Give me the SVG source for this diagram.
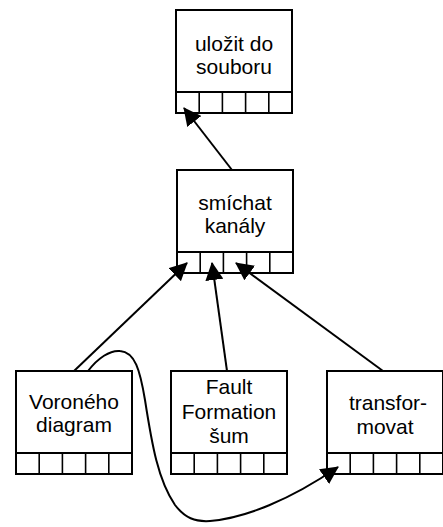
<svg xmlns="http://www.w3.org/2000/svg" width="443" height="527" viewBox="0 0 443 527">
  <style>
    .box { fill: #ffffff; stroke: #000000; stroke-width: 2; }
    .sep { stroke: #000000; stroke-width: 2; fill: none; }
    .port { stroke: #000000; stroke-width: 1.6; fill: none; }
    .label { font-family: "Liberation Sans", Arial, sans-serif; font-size: 21px; fill: #000000; text-anchor: middle; }
    .edge { stroke: #000000; stroke-width: 2; fill: none; marker-end: url(#arrow); }
  </style>
  <defs>
    <marker id="arrow" markerUnits="userSpaceOnUse" viewBox="0 0 18 18" markerWidth="18" markerHeight="18" refX="17" refY="9" orient="auto">
      <path d="M0,0 L18,9 L0,18 z" fill="#000000"/>
    </marker>
    <!-- node body with a row of five ports underneath -->
    <g id="node-frame">
      <rect class="box" x="0" y="0" width="116" height="103"/>
      <line class="sep" x1="0" y1="82" x2="116" y2="82"/>
      <line class="port" x1="23.2" y1="82" x2="23.2" y2="103"/>
      <line class="port" x1="46.4" y1="82" x2="46.4" y2="103"/>
      <line class="port" x1="69.6" y1="82" x2="69.6" y2="103"/>
      <line class="port" x1="92.8" y1="82" x2="92.8" y2="103"/>
    </g>
  </defs>

  <g id="save">
    <use href="#node-frame" x="176" y="10"/>
    <text class="label" x="234" y="50.5">uložit do</text>
    <text class="label" x="234" y="74">souboru</text>
  </g>

  <g id="mix">
    <use href="#node-frame" x="177" y="170"/>
    <text class="label" x="235" y="210">smíchat</text>
    <text class="label" x="235" y="233">kanály</text>
  </g>

  <g id="voronoi">
    <use href="#node-frame" x="16" y="371"/>
    <text class="label" x="74" y="409">Voroného</text>
    <text class="label" x="74" y="432">diagram</text>
  </g>

  <g id="fault">
    <use href="#node-frame" x="171" y="371"/>
    <text class="label" x="229" y="394">Fault</text>
    <text class="label" x="229" y="418.5">Formation</text>
    <text class="label" x="229" y="443">šum</text>
  </g>

  <g id="transform">
    <use href="#node-frame" x="327" y="371"/>
    <text class="label" x="388" y="410">transfor-</text>
    <text class="label" x="385" y="434">movat</text>
  </g>

  <g id="connectors">
    <line class="edge" x1="232" y1="170" x2="184" y2="108"/>
    <line class="edge" x1="74" y1="371" x2="187" y2="263"/>
    <line class="edge" x1="227" y1="371" x2="212" y2="263"/>
    <line class="edge" x1="383" y1="371" x2="236" y2="263"/>
    <path class="edge" d="M88,371 C98,358 110,350 120,351 C135,352 140,370 145,400 C152,445 158,480 175,505 C185,518 195,522 210,521 C245,518 290,500 338,467"/>
  </g>
</svg>
